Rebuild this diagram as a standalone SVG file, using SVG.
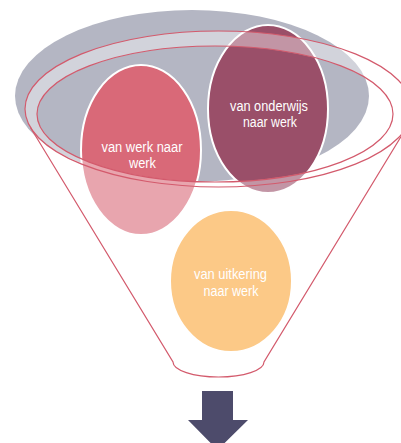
<svg xmlns="http://www.w3.org/2000/svg" width="401" height="443" viewBox="0 0 401 443">
  <style>
    .lbl { font-family: "Liberation Sans", Arial, sans-serif; font-size: 15.5px; fill: #ffffff; text-anchor: middle; }
    .bubble { stroke: #ffffff; stroke-width: 2; }
    .funnel-line { fill: none; stroke: #d35a6c; stroke-width: 1.2; }
  </style>
  <rect width="401" height="443" fill="#ffffff"/>
  <g id="backdrop">
    <ellipse cx="192" cy="96" rx="177" ry="86" fill="#b4b6c3"/>
  </g>
  <g id="node-werk-naar-werk">
    <ellipse class="bubble" cx="141" cy="150" rx="60" ry="85" fill="#d96978"/>
    <text class="lbl" x="142" y="152" textLength="81" lengthAdjust="spacingAndGlyphs">van werk naar</text>
    <text class="lbl" x="142.5" y="168" textLength="27" lengthAdjust="spacingAndGlyphs">werk</text>
  </g>
  <g id="node-onderwijs-naar-werk">
    <ellipse class="bubble" cx="268" cy="109" rx="60" ry="84" fill="#9a4f69"/>
    <text class="lbl" x="269" y="110.5" textLength="78" lengthAdjust="spacingAndGlyphs">van onderwijs</text>
    <text class="lbl" x="270" y="126.5" textLength="54" lengthAdjust="spacingAndGlyphs">naar werk</text>
  </g>
  <g id="node-uitkering-naar-werk">
    <ellipse class="bubble" cx="231" cy="281" rx="61" ry="71" fill="#faa537"/>
    <text class="lbl" x="230.5" y="278.5" textLength="73" lengthAdjust="spacingAndGlyphs">van uitkering</text>
    <text class="lbl" x="231" y="296" textLength="55" lengthAdjust="spacingAndGlyphs">naar werk</text>
  </g>
  <g id="funnel">
    <path d="M 30.6 127.7 A 193.5 78 0 1 1 406.4 127.7 L 264 362 A 45.5 15 0 0 1 173 362 Z M 37 114 A 178 68 0 1 0 393 114 A 178 68 0 1 0 37 114 Z" fill="#ffffff" fill-opacity="0.4" fill-rule="evenodd"/>
    <ellipse class="funnel-line" cx="218.5" cy="109" rx="193.5" ry="78"/>
    <ellipse class="funnel-line" cx="215" cy="114" rx="178" ry="68"/>
    <path class="funnel-line" d="M 30.6 127.7 L 173 362 A 45.5 15 0 0 0 264 362 L 406.4 127.7"/>
  </g>
  <g id="connectors">
    <path d="M 202 391 L 233 391 L 233 420 L 248 420 L 217.5 450 L 188 420 L 202 420 Z" fill="#4d4b6b"/>
  </g>
</svg>
